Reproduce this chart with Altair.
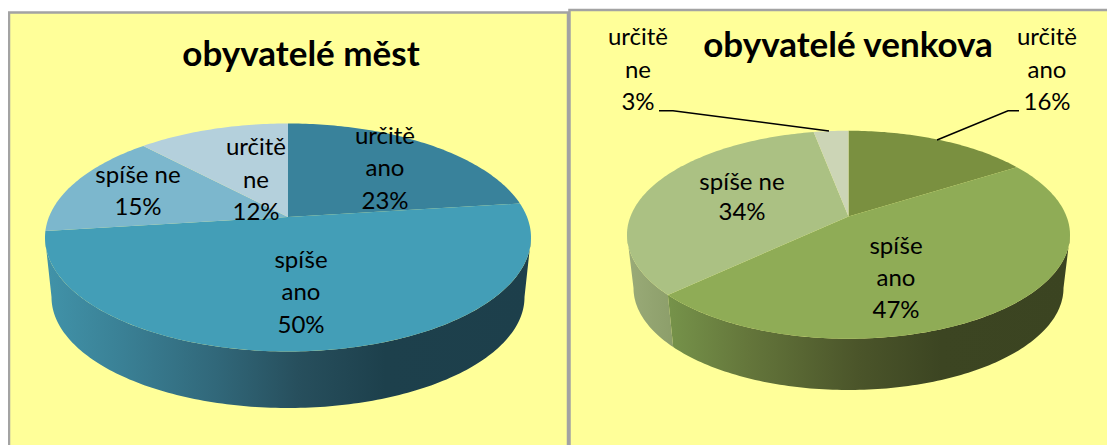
import math
import altair as alt

# ---- values
TITLES = ["obyvatelé měst", "obyvatelé venkova"]
CATEGORIES = [["určitě\nano", "spíše\nano", "spíše ne", "určitě\nne"],
              ["určitě\nano", "spíše\nano", "spíše ne", "určitě\nne"]]
SHARES = [[23, 50, 15, 12], [16, 47, 34, 3]]

# ---- styles and layout (page pixels)
FONT = "Lato"
TOP_COLORS = [["#39829b", "#439eb7", "#7cb7cd", "#b4d0dc"],
              ["#7a9040", "#8fac56", "#abc183", "#ccd5b6"]]
SIDE_STOPS = [
    {1: [(0, "#4193a9"), (0.16, "#3a8095"), (0.35, "#31687a"), (0.52, "#274f5d"), (0.7, "#1d404c"), (1, "#1d3f4b")]},
    {1: [(0, "#76934a"), (0.2, "#64763b"), (0.47, "#4b552a"), (0.68, "#3c4522"), (1, "#3b4421")],
     2: [(0, "#9aab78"), (1, "#8c9e6a")]},
]
PIES = [
    dict(cx=288, cy=237.5, rx=243, ry=114, a=0.18, bcy=297, brx=236.5, bry=111),
    dict(cx=848.5, cy=234.75, rx=221.5, ry=104, a=0.175, bcy=288, brx=215, bry=102),
]
PANELS = [(9, 12.5, 568, 447), (569.5, 10, 1117, 447)]
PANEL_FILL = "#ffff99"
PANEL_STROKE = "#a3a3a3"
LEADERS = [[(659, 110.7), (673, 110.7), (829, 131)],
           [(1019, 110.7), (1008, 110.7), (937, 140)]]
TITLE_POS = [(301, 55), (848, 46)]
LABEL_POS = [
    [(385, [137, 169, 202]), (301, [261, 293, 326]), (138, [176, 208]), (256, [148, 181, 213])],
    [(1047, [38, 71, 103]), (896, [247, 279, 311]), (742, [183, 213]), (638, [38, 71, 103])],
]


def rim(p, t, bottom=False):
    """Point on the pie's rim, t = degrees clockwise from top, seen in perspective."""
    u, v = math.sin(math.radians(t)), math.cos(math.radians(t))
    a = p["a"]
    d = 1 + a * v
    X, Y = u * math.sqrt(1 - a * a) / d, (v + a) / d
    if bottom:
        return [p["cx"] + p["brx"] * X, p["bcy"] - p["bry"] * Y]
    return [p["cx"] + p["rx"] * X, p["cy"] - p["ry"] * Y]


def apex(p):
    return [p["cx"], p["cy"] - p["ry"] * p["a"]]


def steps(t0, t1):
    n = max(2, int(abs(t1 - t0)))
    return [t0 + (t1 - t0) * i / n for i in range(n + 1)]


def poly(points, **props):
    ring = list(points) + [points[0]]
    return {"type": "Feature", "properties": props,
            "geometry": {"type": "Polygon", "coordinates": [ring]}}


PROJ = dict(type="identity", scale=1, translate=[-8, -8])

panel_feats = [poly([[x0, y0], [x1, y0], [x1, y1], [x0, y1]], fill=PANEL_FILL) for x0, y0, x1, y1 in PANELS]
layers = [alt.Chart(alt.Data(values=panel_feats)).mark_geoshape(
    fill=PANEL_FILL, stroke=PANEL_STROKE, strokeWidth=2.5).project(**PROJ)]

top_feats = []
text_rows = []
for i, p in enumerate(PIES):
    limit = math.degrees(math.acos(-p["a"]))
    start = 0.0
    for j, share in enumerate(SHARES[i]):
        end = start + share * 3.6
        # visible wall of the slice
        s0, s1 = max(start, limit), min(end, 360 - limit)
        if s1 > s0 and j in SIDE_STOPS[i]:
            ts = steps(s0, s1)
            pts = [rim(p, t) for t in ts] + [rim(p, t, True) for t in reversed(ts)]
            grad = alt.LinearGradient(
                gradient="linear", x1=0, x2=1, y1=0, y2=0,
                stops=[alt.GradientStop(offset=o, color=c) for o, c in SIDE_STOPS[i][j]])
            layers.append(alt.Chart(alt.Data(values=[poly(pts, name=f"{i}-{j}")]))
                          .mark_geoshape(fill=grad, strokeWidth=0).project(**PROJ))
        top_feats.append(poly([apex(p)] + [rim(p, t) for t in steps(start, end)],
                              fill=TOP_COLORS[i][j]))
        lines = CATEGORIES[i][j].split("\n") + [f"{share}%"]
        x, ys = LABEL_POS[i][j]
        text_rows += [{"t": s, "lon": x, "lat": y} for s, y in zip(lines, ys)]
        start = end

layers.append(alt.Chart(alt.Data(values=top_feats)).mark_geoshape(strokeWidth=0).encode(
    fill=alt.Fill("properties.fill:N", scale=None)).project(**PROJ))

line_feats = [{"type": "Feature", "properties": {},
               "geometry": {"type": "LineString", "coordinates": [list(q) for q in l]}} for l in LEADERS]
layers.append(alt.Chart(alt.Data(values=line_feats)).mark_geoshape(
    filled=False, stroke="black", strokeWidth=1.5).project(**PROJ))

layers.append(alt.Chart(alt.Data(values=text_rows)).mark_text(
    font=FONT, fontSize=24, color="#000000", baseline="middle", align="center").encode(
    longitude="lon:Q", latitude="lat:Q", text="t:N").project(**PROJ))

title_rows = [{"t": t, "lon": q[0], "lat": q[1]} for t, q in zip(TITLES, TITLE_POS)]
layers.append(alt.Chart(alt.Data(values=title_rows)).mark_text(
    font=FONT, fontSize=35, fontWeight="bold", color="#000000", baseline="middle", align="center").encode(
    longitude="lon:Q", latitude="lat:Q", text="t:N").project(**PROJ))

chart = alt.layer(*layers).properties(
    width=1099, height=437, padding=0, background="white",
    autosize=alt.AutoSizeParams(type="none")
).configure_view(stroke=None)

chart.save("out.html", embed_options={"renderer": "svg", "actions": False})
